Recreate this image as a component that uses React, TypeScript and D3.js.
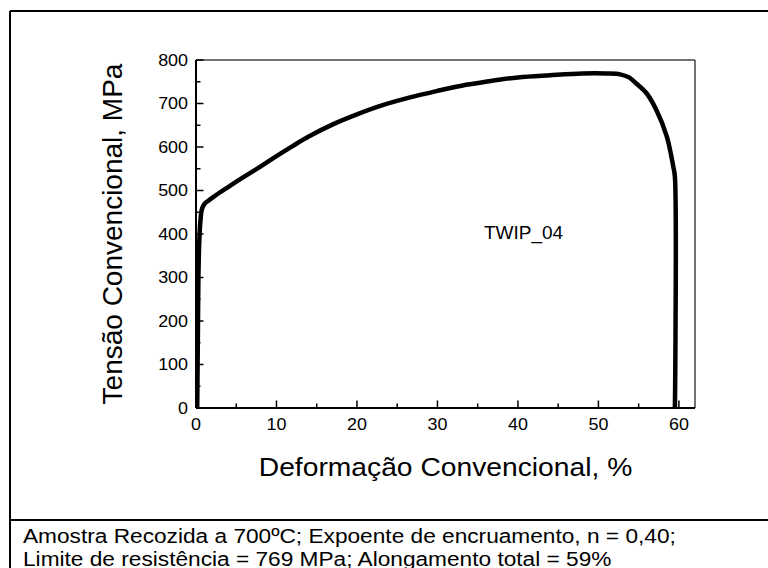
import React from 'react';
import * as d3 from 'd3';

const strain = [0.15, 0.2, 0.25, 0.3, 0.4, 0.55, 0.75, 1.1, 1.5, 2, 3, 4, 5.5, 8, 10, 12, 14, 17, 20, 23, 26.6, 30, 33, 36, 40, 44, 48, 51, 52.7, 53.8, 54.7, 56, 57.2, 58.5, 59.3, 59.5, 59.5];
const stress = [0, 100, 200, 300, 380, 430, 458, 470, 476, 483, 496, 508, 526, 555, 579, 602, 624, 652, 675, 695, 714, 729, 741, 750, 760, 765, 769, 769, 767, 760, 746, 723, 685, 624, 555, 532, 0];

const xTicks = [0, 10, 20, 30, 40, 50, 60];
const xMinor = [5, 15, 25, 35, 45, 55];
const yTicks = [0, 100, 200, 300, 400, 500, 600, 700, 800];
const yMinor = [50, 150, 250, 350, 450, 550, 650, 750];

const yTitle = 'Tensão Convencional, MPa';
const xTitle = 'Deformação Convencional, %';
const seriesLabel = 'TWIP_04';
const noteLines = [
  'Amostra Recozida a 700ºC; Expoente de encruamento, n = 0,40;',
  'Limite de resistência = 769 MPa; Alongamento total = 59%',
];

const W = 768;
const H = 568;
const plot = { left: 196, right: 695, top: 60, bottom: 408 };
const FONT = '"Liberation Sans", Arial, sans-serif';

export default function App() {
  const x = d3.scaleLinear().domain([0, 62]).range([plot.left, plot.right]);
  const y = d3.scaleLinear().domain([0, 800]).range([plot.bottom, plot.top]);
  const pts: [number, number][] = strain.map((s, i) => [s, stress[i]]);
  const line = d3
    .line<[number, number]>()
    .x((d) => x(d[0]))
    .y((d) => y(d[1]))
    .curve(d3.curveCatmullRom.alpha(0.5));

  return (
    <svg
      width={W}
      height={H}
      style={{ position: 'absolute', left: 0, top: 0, background: '#fff' }}
      fontFamily={FONT}
    >
      <rect x={0} y={0} width={W} height={H} fill="#fff" />
      {/* outer frame */}
      <line x1={10} y1={11} x2={W + 5} y2={11} stroke="#000" strokeWidth={2} />
      <line x1={10} y1={11} x2={10} y2={H + 5} stroke="#000" strokeWidth={2} />
      <line x1={10} y1={520} x2={W + 5} y2={520} stroke="#000" strokeWidth={2} />

      {/* plot frame */}
      <line x1={plot.left} y1={plot.top} x2={plot.right} y2={plot.top} stroke="#444" strokeWidth={1.5} />
      <line x1={plot.right} y1={plot.top} x2={plot.right} y2={plot.bottom} stroke="#444" strokeWidth={1.5} />

      {/* curve */}
      <path d={line(pts) || ''} fill="none" stroke="#000" strokeWidth={4.5} strokeLinejoin="round" />

      {/* axes */}
      <line x1={plot.left} y1={plot.bottom} x2={plot.right} y2={plot.bottom} stroke="#000" strokeWidth={2} />
      <line x1={plot.left} y1={plot.top} x2={plot.left} y2={plot.bottom} stroke="#000" strokeWidth={2} />

      {xTicks.map((t) => (
        <g key={'xt' + t}>
          <line x1={x(t)} x2={x(t)} y1={plot.bottom} y2={plot.bottom - 7.5} stroke="#000" strokeWidth={1.5} />
          <text
            transform={`translate(${x(t)},430) scale(1.12,1)`}
            textAnchor="middle"
            fontSize={16}
            fill="#000"
          >
            {t}
          </text>
        </g>
      ))}
      {xMinor.map((t) => (
        <line key={'xm' + t} x1={x(t)} x2={x(t)} y1={plot.bottom} y2={plot.bottom - 4.5} stroke="#000" strokeWidth={1.5} />
      ))}
      {yTicks.map((t) => (
        <g key={'yt' + t}>
          <line x1={plot.left} x2={plot.left + 7.5} y1={y(t)} y2={y(t)} stroke="#000" strokeWidth={1.5} />
          <text
            transform={`translate(188,${y(t) + 5.8}) scale(1.12,1)`}
            textAnchor="end"
            fontSize={16}
            fill="#000"
          >
            {t}
          </text>
        </g>
      ))}
      {yMinor.map((t) => (
        <line key={'ym' + t} x1={plot.left} x2={plot.left + 4.5} y1={y(t)} y2={y(t)} stroke="#000" strokeWidth={1.5} />
      ))}

      <text x={484} y={239} fontSize={19} fill="#000">
        {seriesLabel}
      </text>

      <text
        transform={`translate(${(plot.left + plot.right) / 2},476) scale(1.13,1)`}
        textAnchor="middle"
        fontSize={25}
        fill="#000"
      >
        {xTitle}
      </text>

      <text
        transform={`translate(122,${(plot.top + plot.bottom) / 2}) rotate(-90)`}
        textAnchor="middle"
        fontSize={28}
        fill="#000"
      >
        {yTitle}
      </text>

      {noteLines.map((l, i) => (
        <text
          key={'n' + i}
          transform={`translate(23,${543 + i * 23}) scale(1.08,1)`}
          fontSize={21}
          fill="#000"
        >
          {l}
        </text>
      ))}
    </svg>
  );
}
